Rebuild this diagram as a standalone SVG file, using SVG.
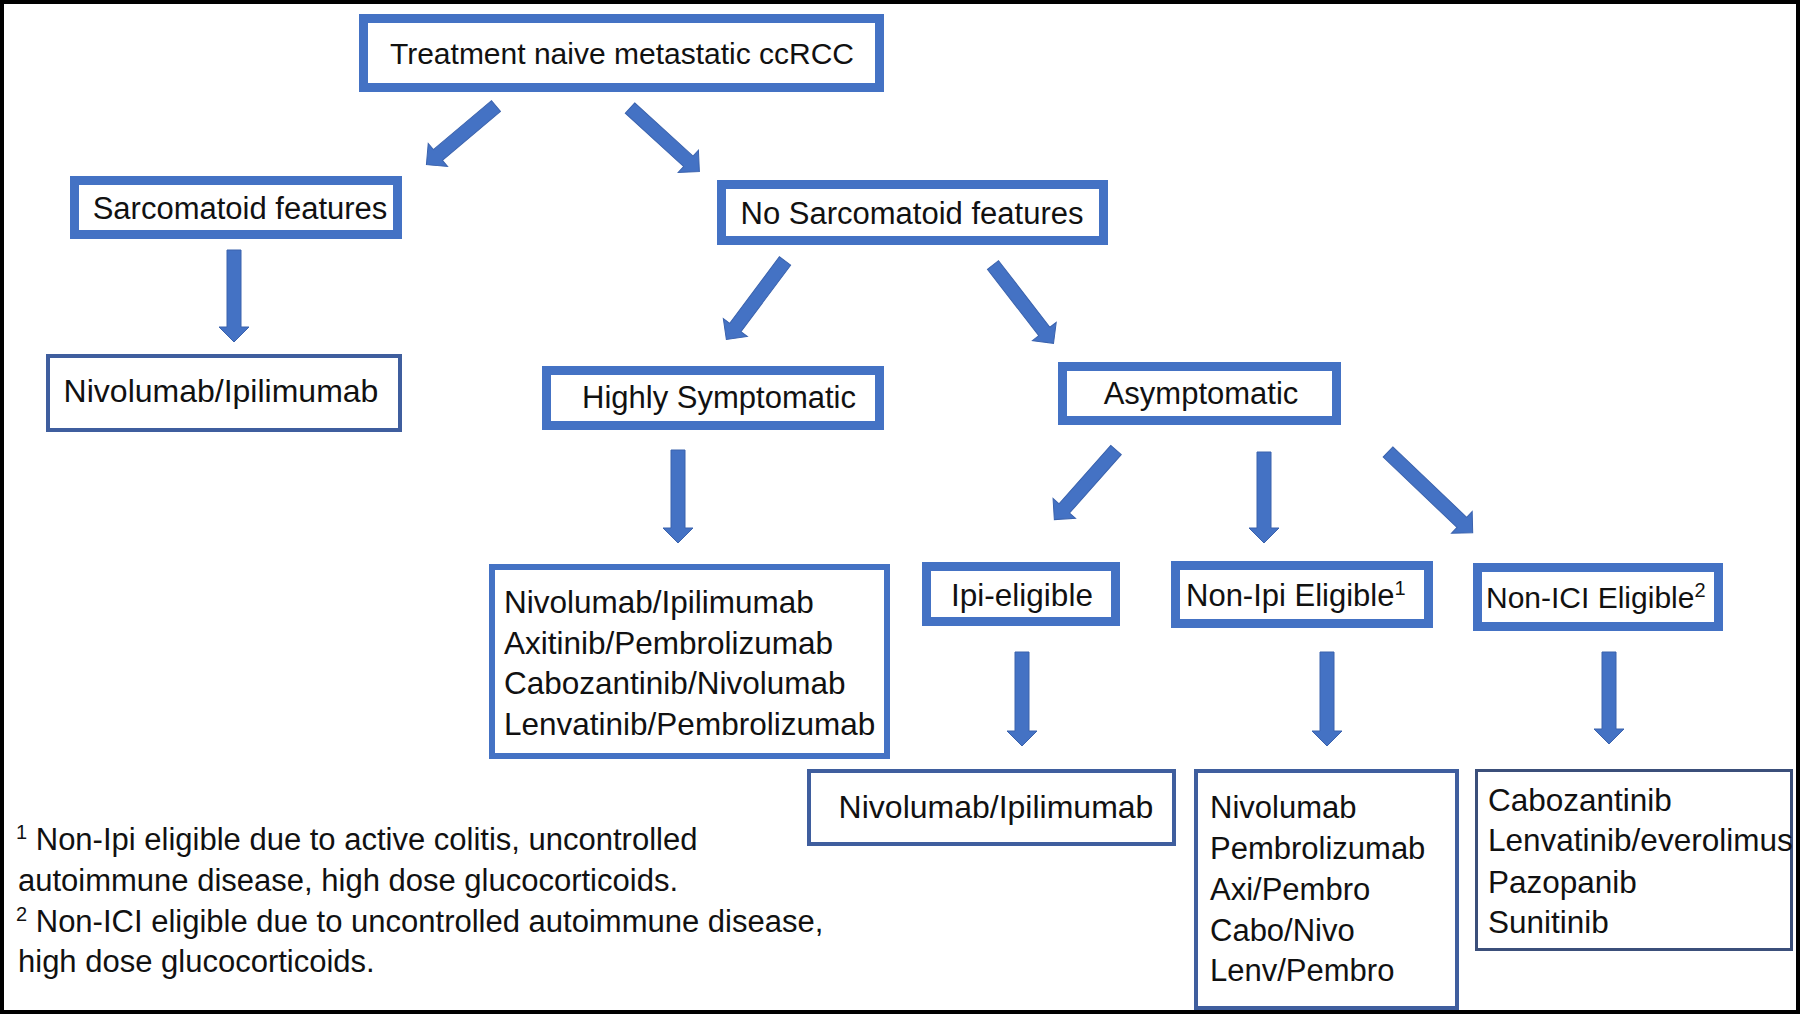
<svg xmlns="http://www.w3.org/2000/svg" width="1800" height="1015" viewBox="0 0 1800 1015">
<style>
text{font-family:"Liberation Sans",Arial,sans-serif;font-size:31px;fill:#111}
.c{text-anchor:middle}
.t30{font-size:30px}
.t32{font-size:32px}
.t315{font-size:31.5px}
.thick{fill:#fff;stroke:#4472C4;stroke-width:9}
.mid{fill:#fff;stroke:#4472C4;stroke-width:6}
.thin{fill:#fff;stroke:#3F5E9E;stroke-width:4}
.dark{fill:#fff;stroke:#3B4F7A;stroke-width:3}
.arr{fill:#4472C4;stroke:#3A62AD;stroke-width:1}
.sup{font-size:20px}
</style>
<rect x="0" y="0" width="1800" height="1015" fill="#fff"/>
<rect x="2" y="2" width="1796" height="1010" fill="none" stroke="#000" stroke-width="4"/>

<g id="connectors">
<polygon class="arr" transform="translate(496,106) rotate(139.87)" points="0,-7 76,-7 76,-15 91,0 76,15 76,7 0,7"/>
<polygon class="arr" transform="translate(630,108) rotate(42.44)" points="0,-7 79,-7 79,-15 94,0 79,15 79,7 0,7"/>
<polygon class="arr" transform="translate(234,250) rotate(90)" points="0,-7 77,-7 77,-15 92,0 77,15 77,7 0,7"/>
<polygon class="arr" transform="translate(785,261) rotate(126.75)" points="0,-7 83,-7 83,-15 98,0 83,15 83,7 0,7"/>
<polygon class="arr" transform="translate(993,265) rotate(52.33)" points="0,-7 84,-7 84,-15 99,0 84,15 84,7 0,7"/>
<polygon class="arr" transform="translate(678,450) rotate(90)" points="0,-7 78,-7 78,-15 93,0 78,15 78,7 0,7"/>
<polygon class="arr" transform="translate(1116,450) rotate(131.53)" points="0,-7 78,-7 78,-15 93,0 78,15 78,7 0,7"/>
<polygon class="arr" transform="translate(1264,452) rotate(90)" points="0,-7 76,-7 76,-15 91,0 76,15 76,7 0,7"/>
<polygon class="arr" transform="translate(1388,452) rotate(43.62)" points="0,-7 102,-7 102,-15 117,0 102,15 102,7 0,7"/>
<polygon class="arr" transform="translate(1022,652) rotate(90)" points="0,-7 79,-7 79,-15 94,0 79,15 79,7 0,7"/>
<polygon class="arr" transform="translate(1327,652) rotate(90)" points="0,-7 79,-7 79,-15 94,0 79,15 79,7 0,7"/>
<polygon class="arr" transform="translate(1609,652) rotate(90)" points="0,-7 77,-7 77,-15 92,0 77,15 77,7 0,7"/>
</g>

<g id="n-root">
<rect class="thick" x="363.5" y="18.5" width="516" height="69"/>
<text class="c t30" x="622" y="64">Treatment naive metastatic ccRCC</text>
</g>
<g id="n-sarc">
<rect class="thick" x="74.5" y="180.5" width="323" height="54"/>
<text class="c" x="240" y="219">Sarcomatoid features</text>
</g>
<g id="n-sarc-tx">
<rect class="thin" x="48" y="356" width="352" height="74"/>
<text class="c t32" x="221" y="402">Nivolumab/Ipilimumab</text>
</g>
<g id="n-nosarc">
<rect class="thick" x="721.5" y="184.5" width="382" height="56"/>
<text class="c" x="912" y="224">No Sarcomatoid features</text>
</g>
<g id="n-highsym">
<rect class="thick" x="546.5" y="370.5" width="333" height="55"/>
<text class="c" x="719" y="408">Highly Symptomatic</text>
</g>
<g id="n-asym">
<rect class="thick" x="1062.5" y="366.5" width="274" height="54"/>
<text class="c" x="1201" y="404">Asymptomatic</text>
</g>
<g id="n-highsym-tx">
<rect class="mid" x="492" y="567" width="395" height="189"/>
<text class="t315" x="504" y="613">Nivolumab/Ipilimumab</text>
<text class="t315" x="504" y="654">Axitinib/Pembrolizumab</text>
<text class="t315" x="504" y="694">Cabozantinib/Nivolumab</text>
<text class="t315" x="504" y="735">Lenvatinib/Pembrolizumab</text>
</g>
<g id="n-ipi">
<rect class="thick" x="926.5" y="566.5" width="189" height="55"/>
<text class="c t315" x="1022" y="606">Ipi-eligible</text>
</g>
<g id="n-nonipi">
<rect class="thick" x="1175.5" y="565.5" width="253" height="58"/>
<text x="1186" y="606">Non-Ipi Eligible<tspan class="sup" dy="-11">1</tspan></text>
</g>
<g id="n-nonici">
<rect class="thick" x="1477.5" y="567.5" width="241" height="59"/>
<text class="t30" x="1486" y="608">Non-ICI Eligible<tspan class="sup" dy="-11">2</tspan></text>
</g>
<g id="n-ipi-tx">
<rect class="thin" x="809" y="771" width="365" height="73"/>
<text class="c t32" x="996" y="818">Nivolumab/Ipilimumab</text>
</g>
<g id="n-nonipi-tx">
<rect class="thin" x="1196" y="771" width="261" height="237"/>
<text x="1210" y="818">Nivolumab</text>
<text x="1210" y="859">Pembrolizumab</text>
<text x="1210" y="900">Axi/Pembro</text>
<text x="1210" y="941">Cabo/Nivo</text>
<text x="1210" y="981">Lenv/Pembro</text>
</g>
<g id="n-nonici-tx">
<rect class="dark" x="1476.5" y="770.5" width="315" height="179"/>
<text class="t315" x="1488" y="811">Cabozantinib</text>
<text class="t315" x="1488" y="851">Lenvatinib/everolimus</text>
<text class="t315" x="1488" y="893">Pazopanib</text>
<text class="t315" x="1488" y="933">Sunitinib</text>
</g>

<g id="footnotes">
<text x="16" y="850"><tspan class="sup" dy="-11">1</tspan><tspan dy="11"> Non-Ipi eligible due to active colitis, uncontrolled</tspan></text>
<text x="18" y="891">autoimmune disease, high dose glucocorticoids.</text>
<text x="16" y="932"><tspan class="sup" dy="-11">2</tspan><tspan dy="11"> Non-ICI eligible due to uncontrolled autoimmune disease,</tspan></text>
<text x="18" y="972">high dose glucocorticoids.</text>
</g>
</svg>
